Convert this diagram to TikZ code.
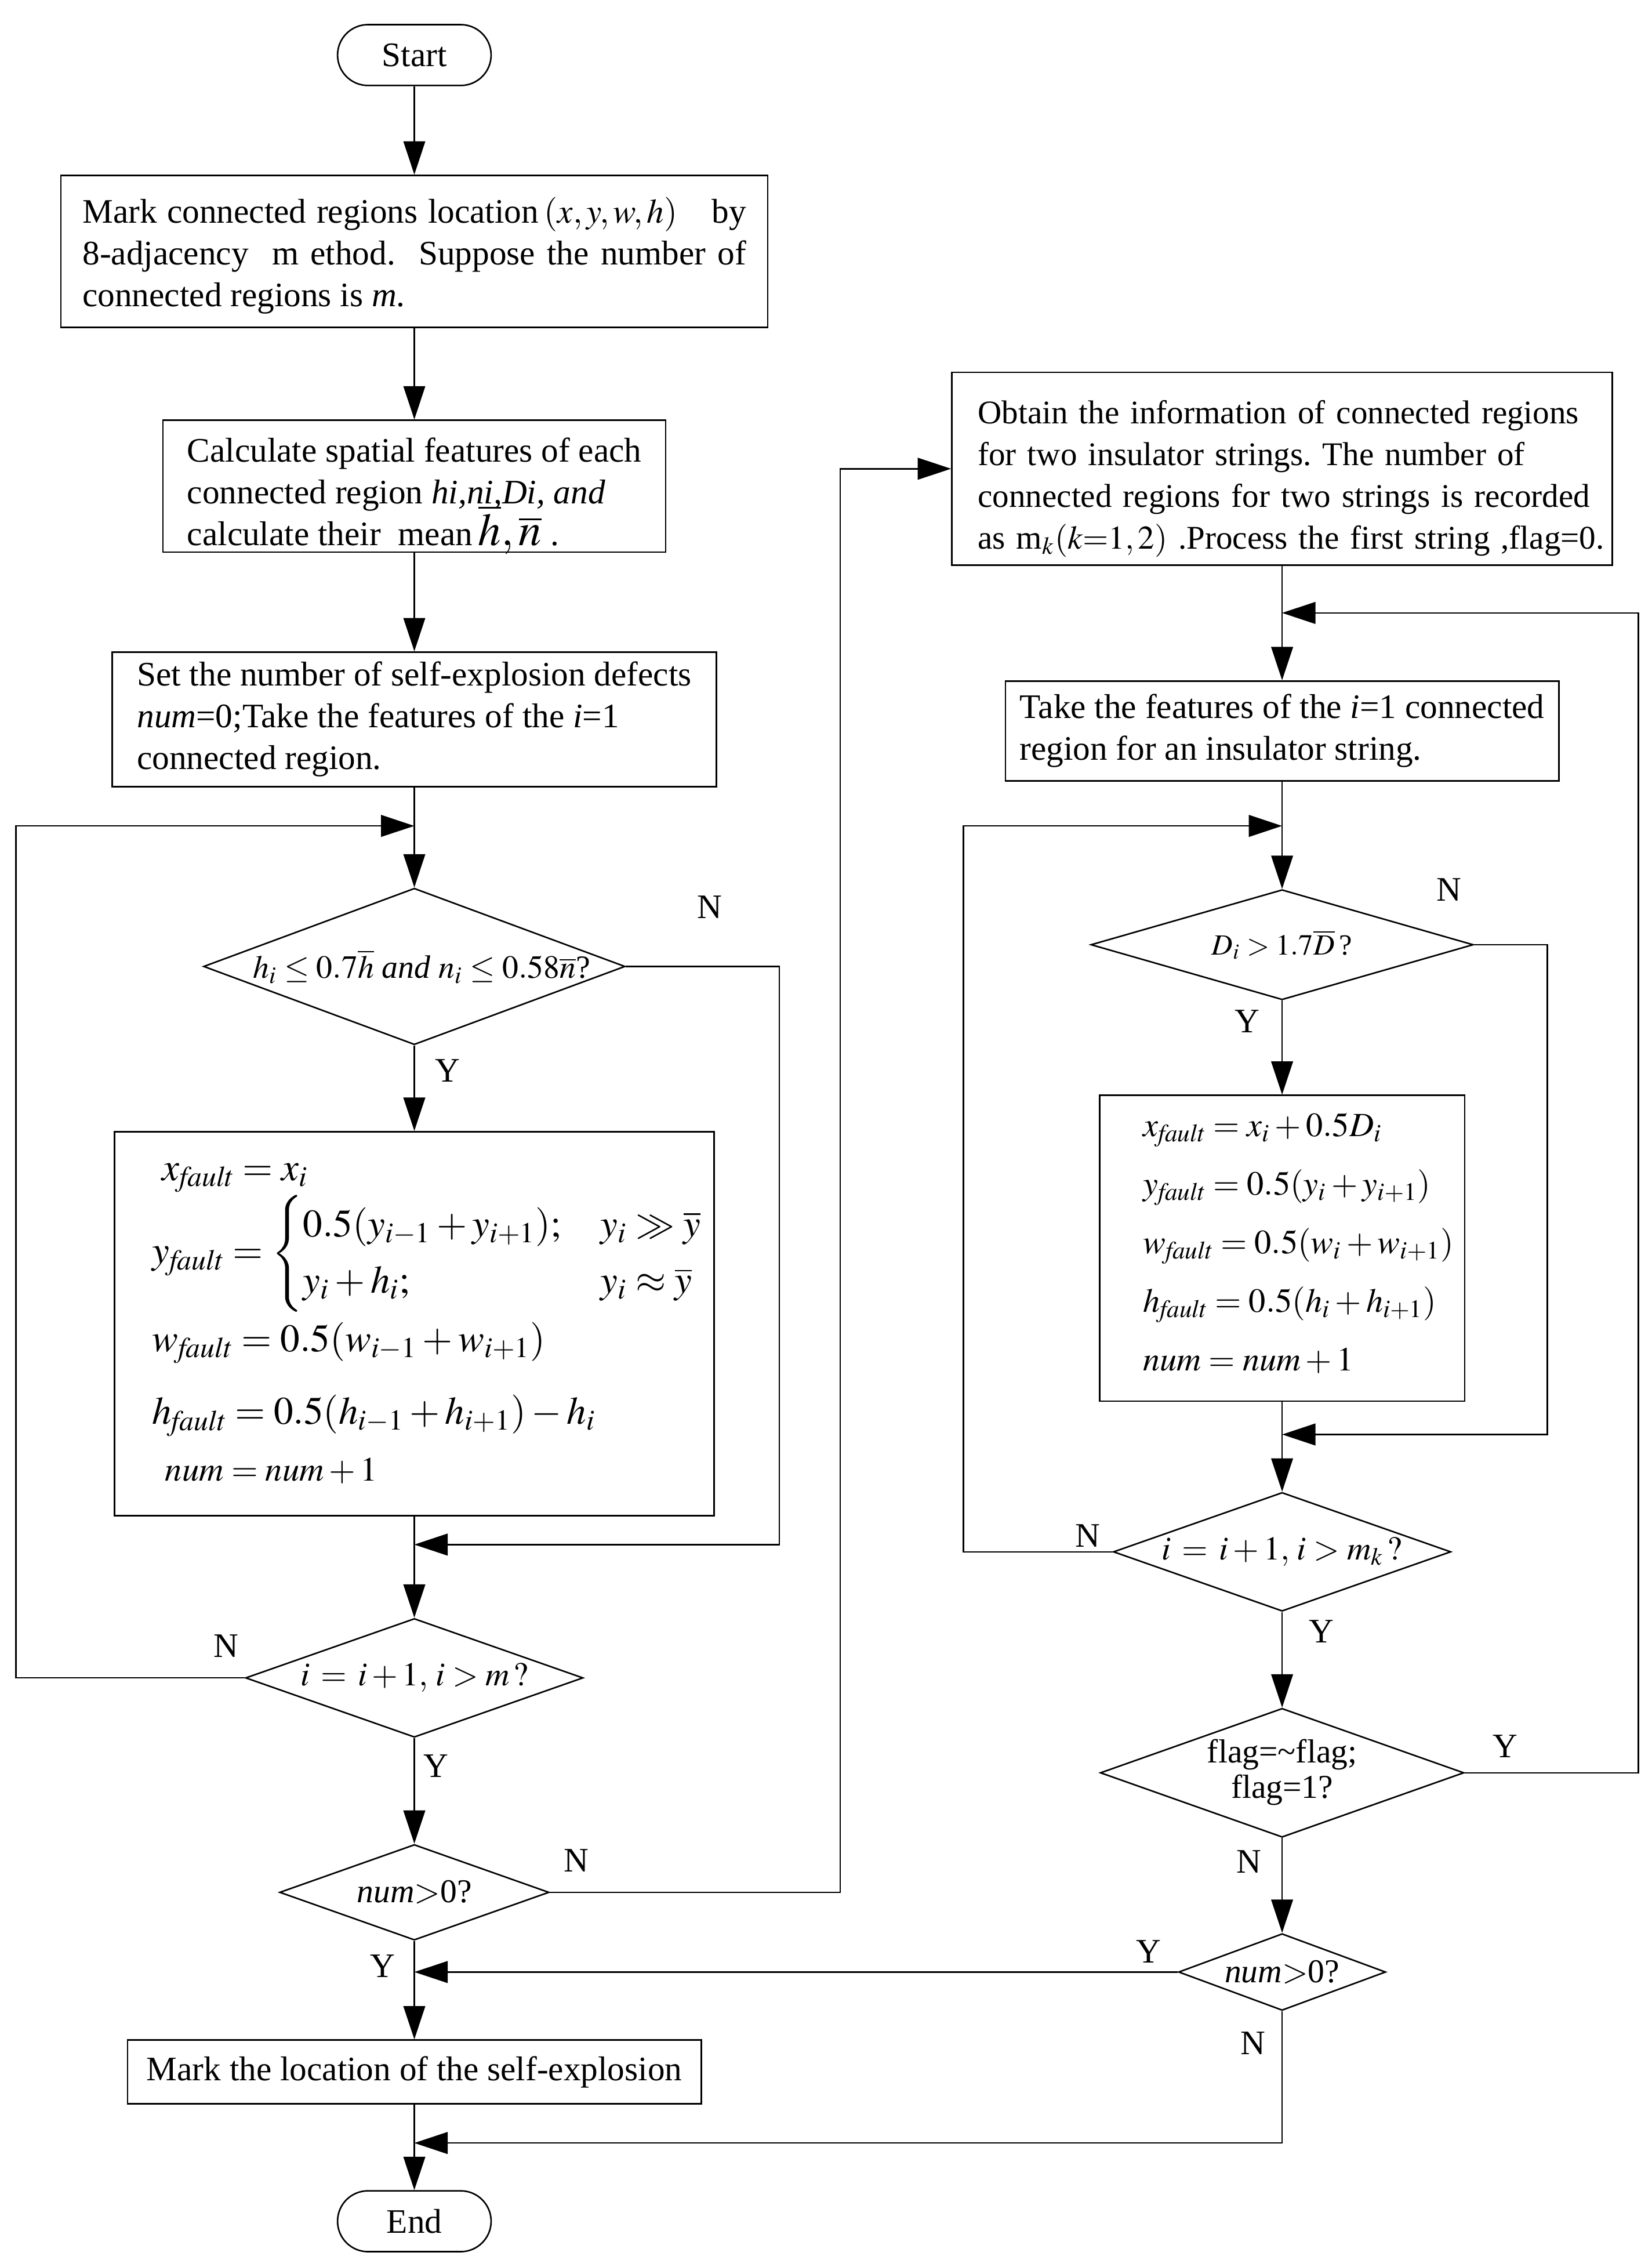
\documentclass[tikz,border=0pt]{standalone}
\usepackage{amsmath}
\usepackage{mathptmx}
\usepackage{fontspec}
\setmainfont{Liberation Serif}
\usetikzlibrary{arrows.meta, shapes.geometric}
\newcommand{\flowfont}{\fontsize{13.5}{16.4}\selectfont}
\newcommand{\decfont}{\fontsize{13.1}{15}\selectfont}
\tikzset{
  term/.style={
      rectangle,
      draw,
      rounded corners=0.42cm,
      minimum width=2.12cm,
      minimum height=0.84cm,
      inner sep=0pt
    },
  proc/.style={
      rectangle,
      draw,
      inner sep=0pt,
      align=left
    },
  dec/.style={
      diamond,
      draw,
      inner sep=0pt,
      font=\decfont
    },
  lbl/.style={
      inner sep=0pt
    },
  arr/.style={
      -{Triangle[length=0.46cm, width=0.3cm]}
    }
}

\begin{document}
\frenchspacing
\begin{tikzpicture}[line width=0.6pt, font=\flowfont]
  \useasboundingbox (0,0) rectangle (22.8,-31.14);
  % left column
  \node[term] (start) at (5.72,-0.76) {Start};
  \node[proc, align=justify, text width=9.16cm, minimum width=9.76cm, minimum height=2.10cm] (mark) at (5.72,-3.47)
    {\rule{0pt}{1em}Mark connected regions location\,$(x,y,w,h)$\quad by\linebreak 8-adjacency\ \ m ethod.\ \ Suppose the number of\linebreak connected regions is \textit{m}.};
  \node[proc, minimum width=6.94cm, minimum height=1.82cm] (feat) at (5.72,-6.71)
    {\rule{0pt}{1.05em}Calculate spatial features of each\\ connected region \textit{hi,ni,Di, and}\\ calculate their\ \ mean\,{\fontsize{18}{16.4}\selectfont$\smash{\overline{h},\overline{n}}$}\ .};
  \node[proc, minimum width=8.34cm, minimum height=1.86cm] (init) at (5.72,-9.93)
    {Set the number of self-explosion defects\\ \textit{num}=0;Take the features of the \textit{i}=1\\ connected region.};
  \node[dec, minimum width=5.82cm, minimum height=2.16cm] (chkL) at (5.72,-13.34)
    {\makebox[0pt]{\fontsize{12.7}{14}\selectfont\hspace*{0.2cm}$h_i\leq 0.7\overline{h}$ \textit{and} $n_i\leq 0.58\overline{n}$?}};
  \node[proc, text width=7.24cm, minimum width=8.28cm, minimum height=5.30cm, font=\fontsize{15.3}{18.5}\selectfont] (faultL) at (5.72,-18.27)
    {\mbox{\hspace*{0.14cm}$x_{\mathit{fault}}=x_i$}\\[0pt]
     \mbox{$y_{\mathit{fault}}=\begin{cases}0.5(y_{i-1}+y_{i+1}); & y_i\gg\overline{y}\\ y_i+h_i; & y_i\approx\overline{y}\end{cases}$}\\[3pt]
     \mbox{$w_{\mathit{fault}}=0.5(w_{i-1}+w_{i+1})$}\\[10pt]
     \mbox{$h_{\mathit{fault}}=0.5(h_{i-1}+h_{i+1})-h_i$}\\[4pt]
     \mbox{\fontsize{13.4}{16}\selectfont\hspace*{0.18cm}$\mathit{num}=\mathit{num}+1$}};
  \node[dec, minimum width=4.66cm, minimum height=1.64cm] (nextL) at (5.72,-23.16)
    {\makebox[0pt]{$i\,=\,i+1,\,i>m\,?$}};
  \node[dec, minimum width=3.72cm, minimum height=1.32cm] (numL) at (5.72,-26.12)
    {\makebox[0pt]{\textit{num}$>$0?}};
  \node[proc, minimum width=7.92cm, minimum height=0.88cm] (loc) at (5.72,-28.60)
    {Mark the location of the self-explosion};
  \node[term] (stop) at (5.72,-30.66) {End};

  % right column
  \node[proc, text width=8.4cm, minimum width=9.12cm, minimum height=2.66cm, font=\fontsize{13.0}{16.4}\selectfont] (info) at (17.70,-6.47)
    {\mbox{\rule{0pt}{1.3em}Obtain the information of connected regions}\\
     \mbox{for two insulator strings. The number of}\\
     \mbox{connected regions for two strings is recorded}\\
     \mbox{as m$_k(k{=}1,2)$ .Process the first string ,flag=0.}};
  \node[proc, minimum width=7.64cm, minimum height=1.38cm] (take) at (17.70,-10.09)
    {Take the features of the \textit{i}=1 connected\\ region for an insulator string.};
  \node[dec, minimum width=5.28cm, minimum height=1.52cm] (chkR) at (17.70,-13.04)
    {\makebox[0pt]{\fontsize{11.5}{14}\selectfont$D_i>1.7\overline{D}$\,?}};
  \node[proc, text width=3.84cm, minimum width=5.04cm, minimum height=4.22cm, font=\fontsize{13.3}{23}\selectfont] (faultR) at (17.70,-17.23)
    {\mbox{$x_{\mathit{fault}}=x_i+0.5D_i$}\\
     \mbox{$y_{\mathit{fault}}=0.5(y_i+y_{i+1})$}\\
     \mbox{$w_{\mathit{fault}}=0.5(w_i+w_{i+1})$}\\
     \mbox{$h_{\mathit{fault}}=0.5(h_i+h_{i+1})$}\\
     \mbox{$\mathit{num}=\mathit{num}+1$\rule[-5pt]{0pt}{1pt}}};
  \node[dec, minimum width=4.66cm, minimum height=1.64cm] (nextR) at (17.70,-21.42)
    {\makebox[0pt]{$i\,=\,i+1,\,i>m_k\,?$}};
  \node[dec, minimum width=5.02cm, minimum height=1.78cm] (flag) at (17.70,-24.47)
    {\makebox[0pt]{\begin{tabular}{@{}c@{}}flag=\textasciitilde flag;\\[-1pt] flag=1?\end{tabular}}};
  \node[dec, minimum width=2.86cm, minimum height=1.06cm] (numR) at (17.70,-27.22)
    {\makebox[0pt]{\textit{num}$>$0?}};

  % rails and merge points
  \coordinate (railL) at (0.22,0);
  \coordinate (railN) at (10.76,0);
  \coordinate (railM) at (11.60,0);
  \coordinate (railK) at (13.30,0);
  \coordinate (railD) at (21.36,0);
  \coordinate (railR) at (22.62,0);
  \coordinate (inL) at (5.72,-11.40);
  \coordinate (skipL) at (5.72,-21.32);
  \coordinate (inEnd) at (5.72,-29.58);
  \coordinate (inR) at (17.70,-8.46);
  \coordinate (inChk) at (17.70,-11.40);
  \coordinate (skipR) at (17.70,-19.80);

  % labels
  \node[lbl] (nA) at (9.80,-12.52) {N};
  \node[lbl] (yA) at (6.18,-14.78) {Y};
  \node[lbl] (nB) at (3.12,-22.72) {N};
  \node[lbl] (yB) at (6.02,-24.38) {Y};
  \node[lbl] (nC) at (7.96,-25.68) {N};
  \node[lbl] (yC) at (5.28,-27.14) {Y};
  \node[lbl] (nD) at (20.00,-12.28) {N};
  \node[lbl] (yD) at (17.22,-14.10) {Y};
  \node[lbl] (nE) at (15.02,-21.20) {N};
  \node[lbl] (yE) at (18.24,-22.52) {Y};
  \node[lbl] (yF) at (20.78,-24.10) {Y};
  \node[lbl] (nF) at (17.24,-25.70) {N};
  \node[lbl] (yG) at (15.86,-26.94) {Y};
  \node[lbl] (nG) at (17.30,-28.20) {N};

  % connectors
  \draw[arr] (start) -- (mark);
  \draw[arr] (mark) -- (feat);
  \draw[arr] (feat) -- (init);
  \draw[arr] (init) -- (chkL);
  \draw[arr] (chkL) -- (faultL);
  \draw[arr] (faultL) -- (nextL);
  \draw[arr] (nextL) -- (numL);
  \draw[arr] (numL) -- (loc);
  \draw[arr] (loc) -- (stop);
  \draw[arr] (chkL.east) -- (chkL.east -| railN) |- (skipL);
  \draw[arr] (nextL.west) -- (nextL.west -| railL) |- (inL);
  \draw[arr] (numL.east) -- (numL.east -| railM) |- (info.west);
  \draw[arr] (info) -- (take);
  \draw[arr] (take) -- (chkR);
  \draw[arr] (chkR) -- (faultR);
  \draw[arr] (faultR) -- (nextR);
  \draw[arr] (nextR) -- (flag);
  \draw[arr] (flag) -- (numR);
  \draw[arr] (chkR.east) -- (chkR.east -| railD) |- (skipR);
  \draw[arr] (nextR.west) -- (nextR.west -| railK) |- (inChk);
  \draw[arr] (flag.east) -- (flag.east -| railR) |- (inR);
  \draw[arr] (numR.west) -- (numR.west -| numL.south);
  \draw[arr] (numR.south) |- (inEnd);
\end{tikzpicture}
\end{document}
